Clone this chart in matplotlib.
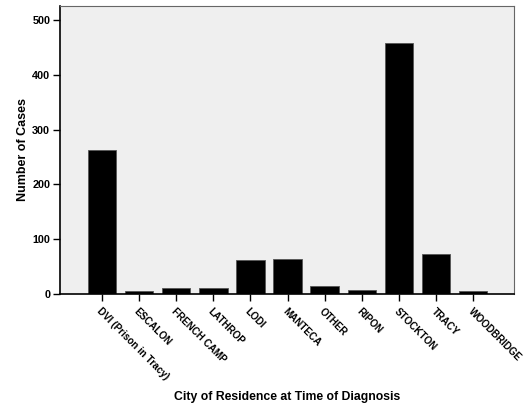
import matplotlib.pyplot as plt
import numpy as np

plt.rcParams['font.family'] = ['Liberation Sans', 'DejaVu Sans']
plt.rcParams['font.weight'] = 'bold'

# data
cities = ['DVI (Prison in Tracy)', 'ESCALON', 'FRENCH CAMP', 'LATHROP', 'LODI',
          'MANTECA', 'OTHER', 'RIPON', 'STOCKTON', 'TRACY', 'WOODBRIDGE']
cases = [263, 5, 10, 10, 62, 64, 13, 7, 458, 72, 5]

fig = plt.figure(figsize=(5.28, 4.07), dpi=100)
ax = fig.add_axes([60 / 528, 1 - 293.5 / 407, 454 / 528, 287.5 / 407])
ax.set_facecolor('#efefef')

x = np.arange(len(cities))
ax.bar(x, cases, width=0.77, color='black', edgecolor='#555555', linewidth=0.6)

ax.set_xlim(-1.13, 11.1)
ax.set_ylim(0, 526)
ax.set_yticks([0, 100, 200, 300, 400, 500])
ax.set_xticks(x)
ax.set_xticklabels(cities, rotation=-45, ha='left', va='top', rotation_mode='anchor',
                   fontsize=7.1, fontweight='bold')
ax.tick_params(axis='y', labelsize=7.8, length=5, width=1, direction='out', pad=2)
ax.tick_params(axis='x', length=5, width=1, direction='out', pad=4)
for t in ax.get_yticklabels():
    t.set_fontweight('bold')

ax.spines['left'].set_linewidth(1.2)
ax.spines['bottom'].set_linewidth(1.2)
ax.spines['top'].set_color('#666666')
ax.spines['right'].set_color('#666666')

ax.set_ylabel('Number of Cases', fontsize=9, fontweight='bold', labelpad=2)
fig.text(287 / 528, 1 - 397 / 407, 'City of Residence at Time of Diagnosis',
         ha='center', va='center', fontsize=8.8, fontweight='bold')

fig.savefig('out.png', dpi=100)
